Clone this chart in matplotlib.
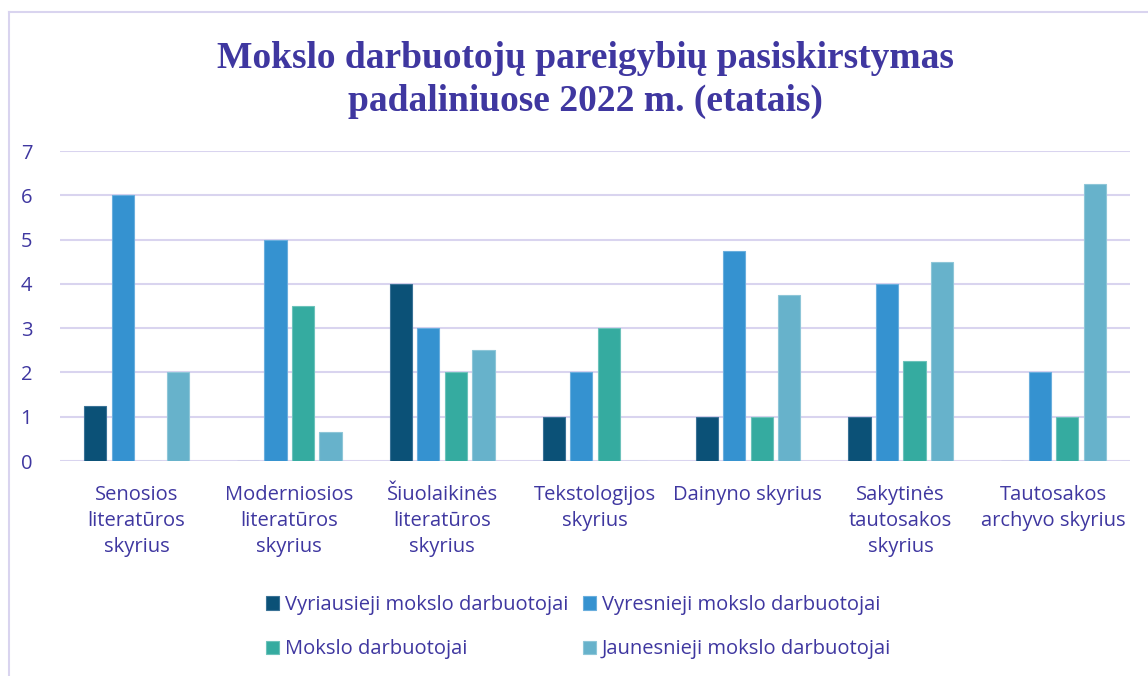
import matplotlib.pyplot as plt
import numpy as np
from matplotlib.lines import Line2D

# departments and staff counts (full-time equivalents)
categories = [
    'Senosios\nliteratūros\nskyrius',
    'Moderniosios\nliteratūros\nskyrius',
    'Šiuolaikinės\nliteratūros\nskyrius',
    'Tekstologijos\nskyrius',
    'Dainyno skyrius',
    'Sakytinės\ntautosakos\nskyrius',
    'Tautosakos\narchyvo skyrius',
]
series_names = [
    'Vyriausieji mokslo darbuotojai',
    'Vyresnieji mokslo darbuotojai',
    'Mokslo darbuotojai',
    'Jaunesnieji mokslo darbuotojai',
]
vyriausieji = [1.25, 0, 4, 1, 1, 1, 0]
vyresnieji = [6, 5, 3, 2, 4.75, 4, 2]
mokslo = [0, 3.5, 2, 3, 1, 2.25, 1]
jaunesnieji = [2, 0.65, 2.5, 0, 3.75, 4.5, 6.25]

colors = ['#0B5177', '#3592D0', '#35ABA0', '#67B2CB']
edges = ['#3A7296', '#6AAEDD', '#6CC2BA', '#8EC6D8']
text_color = '#3F37A0'
grid_color = '#D9D4EF'

fig = plt.figure(figsize=(11.48, 6.76), dpi=100)
ax = fig.add_axes([0.0523, 0.318, 0.932, 0.4586])

x = np.arange(len(categories))
step = 0.18
width = 0.145
all_series = [vyriausieji, vyresnieji, mokslo, jaunesnieji]
bars = []
for i, vals in enumerate(all_series):
    b = ax.bar(x + (i - 1.5) * step, vals, width, color=colors[i], edgecolor=edges[i],
               linewidth=0.8, label=series_names[i], zorder=3)
    bars.append(b)

ax.set_xlim(-0.5, len(categories) - 0.5)
ax.set_ylim(0, 7)
ax.set_yticks(range(0, 8))
ax.grid(axis='y', color=grid_color, linewidth=1.5, zorder=0)
for s in ax.spines.values():
    s.set_visible(False)
ax.tick_params(axis='both', length=0, labelsize=14.5, labelcolor=text_color)
ax.tick_params(axis='y', pad=20)
ax.tick_params(axis='x', pad=17)
ax.set_xticks(x)
ax.set_xticklabels(categories, fontfamily='Open Sans', linespacing=1.4)
for lbl in ax.get_yticklabels():
    lbl.set_fontfamily('Open Sans')

fig.text(0.51, 0.882, 'Mokslo darbuotojų pareigybių pasiskirstymas\npadaliniuose 2022 m. (etatais)',
         ha='center', va='center', fontsize=27, fontweight='bold', family='Liberation Serif',
         color=text_color, linespacing=1.28)

# legend filled row by row (2 columns)
order = [0, 2, 1, 3]
leg = fig.legend([bars[i] for i in order], [series_names[i] for i in order],
                 loc='center', bbox_to_anchor=(0.504, 0.072), ncol=2, frameon=False,
                 handlelength=0.65, handleheight=0.65, handletextpad=0.3,
                 columnspacing=0.7, labelspacing=1.2,
                 prop={'family': 'Open Sans', 'size': 14.5})
for t in leg.get_texts():
    t.set_color(text_color)

# chart border (left and top visible, right/bottom cut off)
fig.add_artist(Line2D([0.0075, 0.0075], [0, 0.982], transform=fig.transFigure, color=grid_color, linewidth=1.5))
fig.add_artist(Line2D([0.0075, 1], [0.982, 0.982], transform=fig.transFigure, color=grid_color, linewidth=1.5))

fig.savefig('out.png', dpi=100)
